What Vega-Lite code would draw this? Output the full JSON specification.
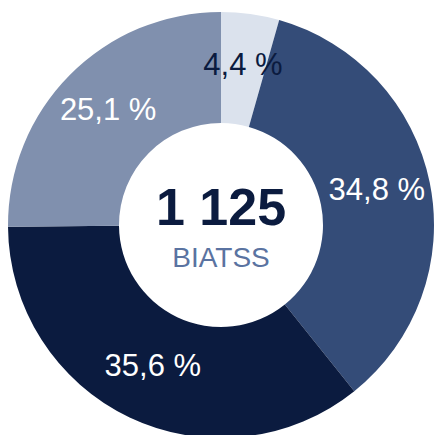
{
  "$schema": "https://vega.github.io/schema/vega-lite/v6.json",
  "width": 426,
  "height": 426,
  "autosize": "none",
  "padding": {"left": 8, "top": 12, "right": 1, "bottom": 0},
  "background": "white",
  "view": {"stroke": null},
  "datasets": {
    "parts": [
      {"categorie": "A", "ord": 1, "value": 4.4, "label": "4,4 %"},
      {"categorie": "B", "ord": 2, "value": 34.8, "label": "34,8 %"},
      {"categorie": "C", "ord": 3, "value": 35.6, "label": "35,6 %"},
      {"categorie": "D", "ord": 4, "value": 25.1, "label": "25,1 %"}
    ],
    "centre": [
      {"total": "1 125", "groupe": "BIATSS"}
    ]
  },
  "layer": [
    {
      "data": {"name": "parts"},
      "mark": {"type": "arc", "innerRadius": 102, "outerRadius": 213},
      "encoding": {
        "theta": {"field": "value", "type": "quantitative", "stack": true},
        "order": {"field": "ord", "type": "quantitative"},
        "color": {
          "field": "categorie",
          "type": "nominal",
          "scale": {"domain": ["A", "B", "C", "D"], "range": ["#dbe2ed", "#344c78", "#0b1b3f", "#8090ae"]},
          "legend": null
        }
      }
    },
    {
      "data": {"name": "parts"},
      "mark": {"type": "text", "radius": 159, "font": "Liberation Sans", "fontSize": 31, "baseline": "middle", "align": "center", "dy": -2},
      "encoding": {
        "theta": {"field": "value", "type": "quantitative", "stack": true},
        "order": {"field": "ord", "type": "quantitative"},
        "text": {"field": "label"},
        "color": {"condition": {"test": "datum.value < 10", "value": "#0b1b3f"}, "value": "white"}
      }
    },
    {
      "data": {"name": "centre"},
      "mark": {"type": "text", "font": "Liberation Sans", "fontWeight": "bold", "fontSize": 52, "baseline": "middle", "align": "center", "dy": -16, "color": "#0b1b3f"},
      "encoding": {"text": {"field": "total"}}
    },
    {
      "data": {"name": "centre"},
      "mark": {"type": "text", "font": "Liberation Sans", "fontSize": 28, "baseline": "middle", "align": "center", "dy": 34, "color": "#5a73a1"},
      "encoding": {"text": {"field": "groupe"}}
    }
  ]
}
